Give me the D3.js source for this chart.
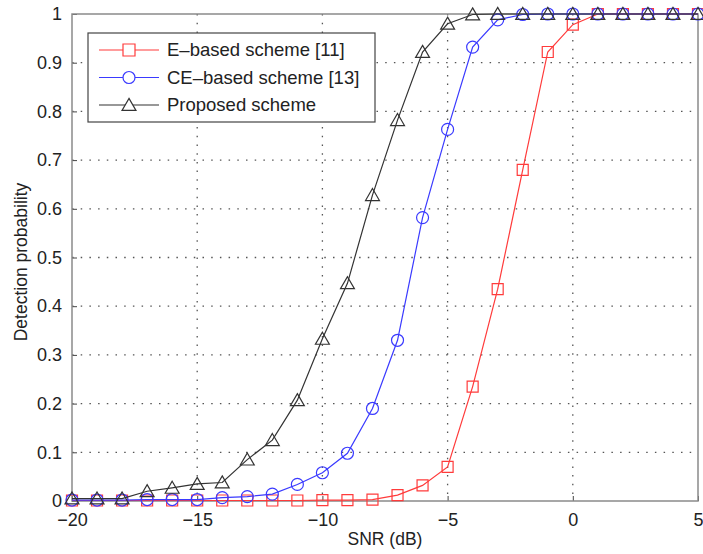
<!DOCTYPE html>
<html>
<head>
<meta charset="utf-8">
<script src="https://d3js.org/d3.v7.min.js"></script>
<style>
  body { margin: 0; background: #fff; }
  text { font-family: "Liberation Sans", Arial, sans-serif; fill: #222; }
</style>
</head>
<body>
<div id="chart"></div>
<script>
// snr values in dB, one point per dB
var snr = d3.range(-20, 6, 1);

// detection probability of each scheme
var eBased = [0.001, 0.001, 0.001, 0.001, 0.001, 0.001, 0.001, 0.001, 0.001, 0.001,
    0.002, 0.002, 0.003, 0.012, 0.032, 0.07, 0.235, 0.435, 0.68, 0.922,
    0.978, 1, 1, 1, 1, 1];
var ceBased = [0.002, 0.002, 0.002, 0.003, 0.003, 0.003, 0.007, 0.009, 0.014, 0.034,
    0.058, 0.098, 0.19, 0.33, 0.582, 0.763, 0.932, 0.988, 0.999, 1,
    1, 1, 1, 1, 1, 1];
var proposed = [0.005, 0.005, 0.005, 0.02, 0.027, 0.035, 0.038, 0.085, 0.125, 0.207,
    0.333, 0.447, 0.628, 0.782, 0.922, 0.98, 0.999, 1, 1, 1,
    1, 1, 1, 1, 1, 1];

var xTicks = [-20, -15, -10, -5, 0, 5];
var yTicks = [0, 0.1, 0.2, 0.3, 0.4, 0.5, 0.6, 0.7, 0.8, 0.9, 1];

var series = [
    { name: "E\u2013based scheme [11]", values: eBased, color: "#ff3b3b", marker: "square" },
    { name: "CE\u2013based scheme [13]", values: ceBased, color: "#3a3aff", marker: "circle" },
    { name: "Proposed scheme", values: proposed, color: "#333333", marker: "triangle" }
];

//sizes of the svg and the plot box
var W = 703, H = 554;
var margin = { top: 14, right: 5, bottom: 53, left: 72 },
    width = W - margin.left - margin.right,
    height = H - margin.top - margin.bottom;

var svg = d3.select("#chart").append("svg")
    .attr("width", W)
    .attr("height", H);

var g = svg.append("g")
    .attr("transform", "translate(" + margin.left + "," + margin.top + ")");

var x = d3.scaleLinear().domain([-20, 5]).range([0, width]);
var y = d3.scaleLinear().domain([0, 1]).range([height, 0]);

//dotted grid lines
g.selectAll(".vgrid")
    .data(xTicks.slice(1, -1))
    .enter().append("line")
    .attr("x1", d => x(d)).attr("x2", d => x(d))
    .attr("y1", 0).attr("y2", height)
    .attr("stroke", "#555")
    .attr("stroke-width", 1.3)
    .attr("stroke-dasharray", "1.5,7.2");

g.selectAll(".hgrid")
    .data(yTicks.slice(1, -1))
    .enter().append("line")
    .attr("x1", 0).attr("x2", width)
    .attr("y1", d => y(d)).attr("y2", d => y(d))
    .attr("stroke", "#555")
    .attr("stroke-width", 1.3)
    .attr("stroke-dasharray", "1.5,7.2");

//axes with inward ticks
var xAxis = g.append("g")
    .attr("transform", "translate(0," + height + ")")
    .call(d3.axisBottom(x).tickValues(xTicks).tickSizeInner(-5).tickSizeOuter(0).tickPadding(12));
var yAxis = g.append("g")
    .call(d3.axisLeft(y).tickValues(yTicks).tickSizeInner(-5).tickSizeOuter(0).tickPadding(10)
        .tickFormat(d => d === 0 || d === 1 ? d3.format("d")(d) : d3.format(".1f")(d)));

[xAxis, yAxis].forEach(function(a) {
    a.select(".domain").remove();
    a.selectAll(".tick line").attr("stroke", "#444");
    a.selectAll(".tick text")
        .style("font-size", "18px")
        .style("font-family", "Liberation Sans, Arial, sans-serif")
        .attr("fill", "#222");
});
xAxis.selectAll(".tick text").attr("dy", "0.7em");

//frame around the plot
g.append("rect")
    .attr("x", 0).attr("y", 0)
    .attr("width", width).attr("height", height)
    .attr("fill", "none")
    .attr("stroke", "#8a8a8a")
    .attr("stroke-width", 1.5);

//marker path for each type
function markerPath(type, s) {
    if (type === "square") return "M" + (-s / 2) + "," + (-s / 2) + "h" + s + "v" + s + "h" + (-s) + "Z";
    if (type === "triangle") return "M0," + (-s * 0.55) + "L" + (s * 0.58) + "," + (s * 0.45) + "L" + (-s * 0.58) + "," + (s * 0.45) + "Z";
    var r = s / 2;
    return "M" + r + ",0A" + r + "," + r + " 0 1,1 " + (-r) + ",0A" + r + "," + r + " 0 1,1 " + r + ",0Z";
}

var line = d3.line()
    .x((d, i) => x(snr[i]))
    .y(d => y(d));

series.forEach(function(s) {
    g.append("path")
        .datum(s.values)
        .attr("d", line)
        .attr("fill", "none")
        .attr("stroke", s.color)
        .attr("stroke-width", 1.2);

    g.selectAll(".m-" + s.marker)
        .data(s.values)
        .enter().append("path")
        .attr("class", "m-" + s.marker)
        .attr("transform", (d, i) => "translate(" + x(snr[i]) + "," + y(d) + ")")
        .attr("d", markerPath(s.marker, s.marker === "circle" ? 12 : (s.marker === "square" ? 11 : 12)))
        .attr("fill", "none")
        .attr("stroke", s.color)
        .attr("stroke-width", 1.2);
});

//axis titles
svg.append("text")
    .attr("x", margin.left + width / 2)
    .attr("y", 545)
    .attr("text-anchor", "middle")
    .style("font-size", "17.5px")
    .text("SNR (dB)");

svg.append("text")
    .attr("transform", "translate(27,262) rotate(-90)")
    .attr("text-anchor", "middle")
    .style("font-size", "17.5px")
    .text("Detection probability");

//legend box
var legend = svg.append("g").attr("transform", "translate(88,33)");
legend.append("rect")
    .attr("width", 287).attr("height", 89)
    .attr("fill", "#fff")
    .attr("stroke", "#444")
    .attr("stroke-width", 1.2);

series.forEach(function(s, i) {
    var row = legend.append("g").attr("transform", "translate(0," + (17 + i * 27.5) + ")");
    row.append("line")
        .attr("x1", 11).attr("x2", 71)
        .attr("stroke", s.color).attr("stroke-width", 1.2);
    row.append("path")
        .attr("transform", "translate(41,0)")
        .attr("d", markerPath(s.marker, 12))
        .attr("fill", "#fff")
        .attr("stroke", s.color).attr("stroke-width", 1.2);
    row.append("text")
        .attr("x", 79).attr("y", 0).attr("dy", "0.35em")
        .style("font-size", "18.5px")
        .text(s.name);
});
</script>
</body>
</html>
